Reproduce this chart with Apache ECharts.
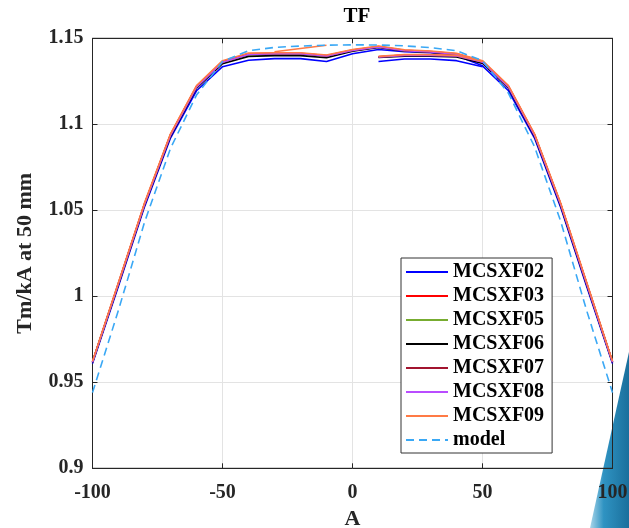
<!DOCTYPE html>
<html>
<head>
<meta charset="utf-8">
<script src="https://cdn.jsdelivr.net/npm/echarts@6/dist/echarts.min.js"></script>
<style>html,body{margin:0;padding:0;background:#fff;}#c{width:629px;height:528px;}</style>
</head>
<body>
<div id="c"></div>
<script>
// ---- data ----
const amps = [-100,-90,-80,-70,-60,-50,-40,-30,-20,-10,0,10,20,30,40,50,60,70,80,90,100];
const lowAmps = [10,20,30,40,50];
const f02 = [0.9610,1.0060,1.0520,1.0920,1.1195,1.1335,1.1372,1.1382,1.1382,1.1365,1.1410,1.1435,1.1422,1.1416,1.1400,1.1340,1.1195,1.0920,1.0520,1.0060,0.9610];
const f02low = [1.1365,1.1380,1.1380,1.1370,1.1335];
const f03 = [0.9620,1.0078,1.0538,1.0940,1.1220,1.1365,1.1410,1.1413,1.1413,1.1400,1.1432,1.1452,1.1430,1.1423,1.1410,1.1366,1.1220,1.0940,1.0540,1.0080,0.9620];
const f03low = [1.1393,1.1403,1.1403,1.1399,1.1364];
const f05 = [0.9618,1.0075,1.0535,1.0937,1.1217,1.1360,1.1405,1.1408,1.1408,1.1396,1.1428,1.1449,1.1427,1.1420,1.1406,1.1362,1.1217,1.0937,1.0537,1.0077,0.9618];
const f05low = [1.1390,1.1400,1.1400,1.1396,1.1360];
const f06 = [0.9615,1.0070,1.0530,1.0930,1.1210,1.1352,1.1395,1.1399,1.1399,1.1387,1.1425,1.1447,1.1426,1.1419,1.1403,1.1355,1.1210,1.0930,1.0530,1.0070,0.9615];
const f06low = [1.1388,1.1396,1.1396,1.1392,1.1355];
const f07 = [0.9619,1.0076,1.0537,1.0939,1.1219,1.1363,1.1408,1.1411,1.1411,1.1398,1.1430,1.1451,1.1429,1.1422,1.1408,1.1364,1.1219,1.0939,1.0539,1.0078,0.9619];
const f07low = [1.1392,1.1402,1.1402,1.1398,1.1363];
const f08 = [0.9617,1.0074,1.0534,1.0936,1.1216,1.1361,1.1406,1.1410,1.1410,1.1397,1.1429,1.1450,1.1428,1.1421,1.1407,1.1362,1.1216,1.0936,1.0536,1.0076,0.9617];
const f08low = [1.1391,1.1401,1.1401,1.1397,1.1362];
const f09 = [0.9623,1.0082,1.0543,1.0945,1.1225,1.1370,1.1414,1.1416,1.1416,1.1403,1.1435,1.1455,1.1433,1.1426,1.1413,1.1370,1.1225,1.0945,1.0545,1.0084,0.9623];
const f09low = [1.1395,1.1405,1.1405,1.1401,1.1366];
const f09extraAmps = [-30,-10];
const f09extra = [1.1422,1.1460];
const modelVals = [0.944,0.992,1.043,1.086,1.117,1.1365,1.1428,1.1447,1.1455,1.1460,1.1462,1.1461,1.1456,1.1446,1.1428,1.1370,1.1180,1.0870,1.0440,0.9920,0.9440];

const names = ['MCSXF02','MCSXF03','MCSXF05','MCSXF06','MCSXF07','MCSXF08','MCSXF09','model'];
const colors = ['#0000FF','#FF0000','#77AC30','#000000','#A2142F','#B94CFF','#FF7A45','#3AA8F5'];

const zip = (xs, ys) => xs.map((x,i)=>[x,ys[i]]);
const FONT = 'Liberation Serif';

function lineSeries(name, color, data, dashed){
  return {
    name, type:'line', data, symbol:'none', showSymbol:false, smooth:false,
    color, itemStyle:{color, opacity:0},
    lineStyle:{color, width:1.6, type: dashed ? [8,5] : 'solid'},
    emphasis:{disabled:true}, animation:false
  };
}

const series = [];
const main = [f02,f03,f05,f06,f07,f08,f09];
const lows = [f02low,f03low,f05low,f06low,f07low,f08low,f09low];
main.forEach((arr,i)=>{
  series.push(lineSeries(names[i], colors[i], zip(amps, arr)));
  series.push(lineSeries(names[i], colors[i], zip(lowAmps, lows[i])));
});
series.push(lineSeries(names[6], colors[6], zip(f09extraAmps, f09extra)));
series.push(lineSeries(names[7], colors[7], zip(amps, modelVals), true));

const axisCol = '#262626';
const chart = echarts.init(document.getElementById('c'), null, {renderer:'canvas'});
chart.setOption({
  backgroundColor:'#fff',
  animation:false,
  title:{text:'TF', left:352, top:1, textAlign:'center',
    textStyle:{fontFamily:FONT, fontWeight:'bold', fontSize:21, color:'#000'}},
  graphic:[{
    type:'polygon', z:-10, silent:true,
    shape:{points:[[590,528],[629,352],[629,528]]},
    style:{fill:new echarts.graphic.LinearGradient(0,0,1,0,[
      {offset:0,color:'#a9d6ea'},{offset:0.35,color:'#2f93c2'},{offset:1,color:'#1a6f9c'}])}
  }],
  legend:{
    data:names, orient:'vertical', left:401, top:258,
    itemWidth:42, itemHeight:14, itemGap:4,
    padding:[4,8,3,4],
    itemStyle:{opacity:0},
    backgroundColor:'#fff', borderColor:'#333', borderWidth:1,
    textStyle:{fontFamily:FONT, fontWeight:'bold', fontSize:20, color:'#000', lineHeight:20},
    selectedMode:false
  },
  grid:{left:92.5, right:16.5, top:38.3, bottom:59.7, containLabel:false, outerBoundsMode:'none',
    show:true, borderColor:axisCol, borderWidth:1, backgroundColor:'transparent'},
  xAxis:[{
    type:'value', min:-100, max:100, interval:50,
    name:'A', nameLocation:'middle', nameGap:39,
    nameTextStyle:{fontFamily:FONT, fontWeight:'bold', fontSize:22, color:axisCol},
    axisLine:{show:true, onZero:false, lineStyle:{color:axisCol}},
    axisTick:{show:true, inside:true, length:5, lineStyle:{color:axisCol}},
    axisLabel:{fontFamily:FONT, fontWeight:'bold', fontSize:20, color:axisCol, margin:15,
      formatter:v=>String(v)},
    splitLine:{show:true, lineStyle:{color:'#e3e3e3', width:1}}
  },{
    type:'value', position:'top', min:-100, max:100, interval:50,
    axisLine:{show:true, onZero:false, lineStyle:{color:axisCol}},
    axisTick:{show:true, inside:true, length:5, lineStyle:{color:axisCol}},
    axisLabel:{show:false}, splitLine:{show:false}
  }],
  yAxis:[{
    type:'value', min:0.9, max:1.15, interval:0.05,
    name:'Tm/kA at 50 mm', nameLocation:'middle', nameGap:56,
    nameTextStyle:{fontFamily:FONT, fontWeight:'bold', fontSize:22, color:axisCol},
    axisLine:{show:true, onZero:false, lineStyle:{color:axisCol}},
    axisTick:{show:true, inside:true, length:5, lineStyle:{color:axisCol}},
    axisLabel:{fontFamily:FONT, fontWeight:'bold', fontSize:20, color:axisCol, margin:9,
      formatter:v=>String(+v.toFixed(2))},
    splitLine:{show:true, lineStyle:{color:'#e3e3e3', width:1}}
  },{
    type:'value', position:'right', min:0.9, max:1.15, interval:0.05,
    axisLine:{show:true, onZero:false, lineStyle:{color:axisCol}},
    axisTick:{show:true, inside:true, length:5, lineStyle:{color:axisCol}},
    axisLabel:{show:false}, splitLine:{show:false}
  }],
  series
});
</script>
</body>
</html>
